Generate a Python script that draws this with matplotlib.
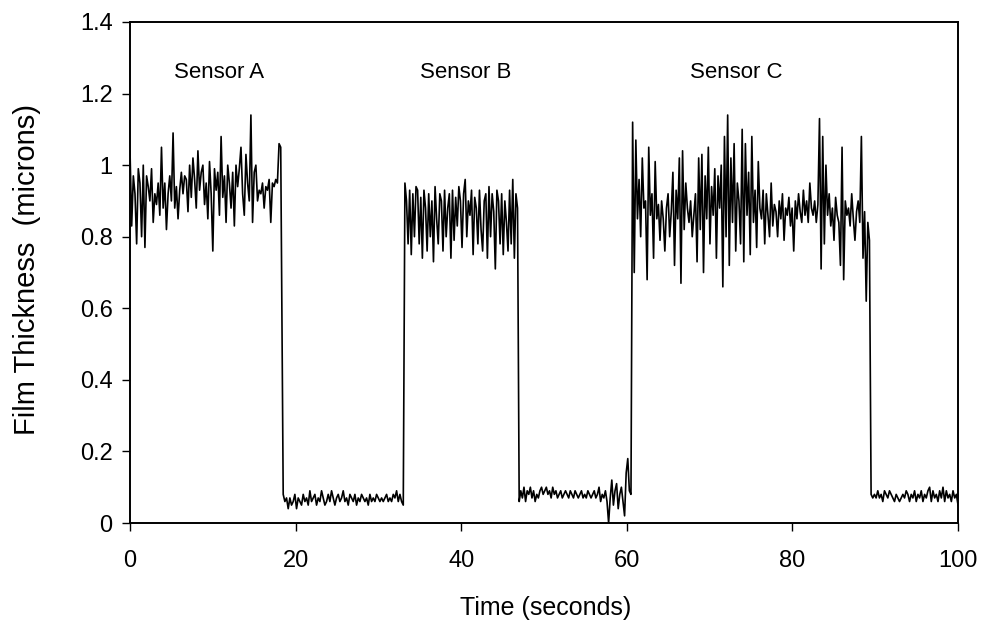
import numpy as np
import matplotlib
matplotlib.use("Agg")
import matplotlib.pyplot as plt

plt.rcParams['font.family'] = ['Liberation Sans', 'DejaVu Sans']

# Segment boundaries (seconds) and sampled values (microns)
seg_a_t = (0.0, 18.2)
seg_a = [1.04,0.83,0.97,0.92,0.78,0.99,0.95,0.80,1.00,0.77,0.97,0.94,0.90,0.99,0.84,0.92,0.89,0.95,0.86,1.05,
         0.88,0.95,0.82,0.92,0.97,0.90,1.09,0.88,0.94,0.85,0.93,0.98,0.92,0.97,0.96,0.87,1.00,0.91,1.02,0.96,
         0.88,1.04,0.93,0.98,1.00,0.89,0.95,0.85,1.01,0.92,0.76,0.99,0.93,0.98,0.86,1.08,0.91,0.97,0.84,1.00,
         0.95,0.88,0.98,0.83,1.00,0.94,0.99,1.05,0.92,0.86,1.03,0.95,0.90,1.14,0.84,0.98,1.00,0.90,0.93,0.92,
         0.95,0.88,0.94,0.93,0.96,0.84,0.95,0.94,0.96,0.95,1.06,1.05]

seg_l1_t = (18.5, 33.0)
seg_l1 = [0.08,0.06,0.07,0.04,0.07,0.05,0.06,0.08,0.04,0.07,0.06,0.05,0.08,0.06,0.07,0.05,0.09,0.06,0.07,0.08,
          0.05,0.07,0.06,0.09,0.07,0.05,0.06,0.08,0.06,0.09,0.07,0.05,0.07,0.08,0.06,0.07,0.09,0.06,0.07,0.05,
          0.08,0.07,0.06,0.08,0.05,0.07,0.06,0.08,0.07,0.06,0.07,0.05,0.08,0.06,0.07,0.06,0.08,0.07,0.06,0.07,
          0.06,0.07,0.08,0.06,0.07,0.06,0.08,0.07,0.09,0.06,0.08,0.06,0.05]

seg_b_t = (33.2, 46.8)
seg_b = [0.95,0.90,0.78,0.93,0.75,0.92,0.80,0.94,0.93,0.78,0.91,0.74,0.93,0.88,0.76,0.92,0.80,0.90,0.73,0.94,
         0.85,0.78,0.92,0.90,0.76,0.93,0.80,0.88,0.92,0.74,0.93,0.79,0.91,0.83,0.94,0.90,0.77,0.92,0.96,0.80,
         0.90,0.86,0.93,0.75,0.91,0.88,0.78,0.93,0.82,0.76,0.90,0.92,0.74,0.94,0.80,0.92,0.87,0.71,0.93,0.90,
         0.78,0.92,0.75,0.90,0.84,0.76,0.93,0.78,0.96,0.74,0.92,0.88]

seg_l2_t = (47.0, 60.5)
seg_l2 = [0.06,0.09,0.07,0.10,0.06,0.09,0.08,0.10,0.07,0.09,0.06,0.08,0.07,0.09,0.10,0.08,0.09,0.10,0.08,0.09,
          0.07,0.10,0.08,0.09,0.07,0.08,0.09,0.07,0.08,0.09,0.08,0.07,0.09,0.08,0.07,0.09,0.08,0.07,0.08,0.09,
          0.07,0.08,0.07,0.09,0.08,0.07,0.08,0.09,0.07,0.08,0.10,0.06,0.08,0.07,0.09,0.06,0.00,0.07,0.12,0.05,
          0.09,0.11,0.04,0.08,0.10,0.06,0.02,0.14,0.18,0.09,0.08]

seg_c_t = (60.7, 89.3)
seg_c = [1.12,0.70,1.07,0.85,0.96,0.80,1.02,0.88,0.90,0.68,1.05,0.86,0.92,0.74,1.01,0.85,0.89,0.79,0.90,0.85,
         0.76,0.88,0.92,0.80,0.87,0.98,0.72,0.93,0.85,1.02,0.67,1.04,0.82,0.95,0.88,0.84,0.90,0.80,0.86,0.92,
         0.73,1.02,0.82,1.03,0.70,0.97,0.85,1.05,0.78,0.94,0.86,0.99,0.74,0.97,0.88,1.00,0.66,1.08,0.80,1.14,
         0.72,1.02,0.84,1.06,0.76,0.95,0.90,0.78,1.10,0.73,1.06,0.86,0.98,0.75,1.08,0.84,0.93,0.77,1.01,0.88,
         0.85,0.93,0.78,0.92,0.86,0.80,0.95,0.83,0.89,0.87,0.80,0.90,0.85,0.92,0.79,0.88,0.86,0.91,0.83,0.88,
         0.76,0.90,0.85,0.92,0.87,0.84,0.93,0.86,0.90,0.84,0.95,0.88,0.86,0.90,0.84,0.89,1.13,0.71,1.08,0.78,
         1.00,0.86,0.92,0.83,0.88,0.79,0.91,0.86,0.84,0.72,1.05,0.68,0.90,0.86,0.88,0.83,0.92,0.85,0.79,0.87,
         0.90,0.84,1.08,0.74,0.87,0.62,0.84,0.79]

seg_l3_t = (89.5, 100.0)
seg_l3 = [0.08,0.07,0.08,0.07,0.09,0.07,0.08,0.06,0.09,0.08,0.07,0.09,0.08,0.07,0.06,0.08,0.07,0.06,0.07,0.08,
          0.07,0.09,0.08,0.06,0.08,0.07,0.09,0.06,0.08,0.07,0.09,0.06,0.08,0.07,0.09,0.10,0.06,0.09,0.07,0.08,
          0.06,0.09,0.07,0.10,0.06,0.09,0.07,0.08,0.06,0.09,0.07,0.08,0.05]

labels = ["Sensor A", "Sensor B", "Sensor C"]
label_x = [10.8, 40.5, 73.2]
label_y = [1.26, 1.26, 1.26]

segments = [(seg_a_t, seg_a), (seg_l1_t, seg_l1), (seg_b_t, seg_b),
            (seg_l2_t, seg_l2), (seg_c_t, seg_c), (seg_l3_t, seg_l3)]
t_all, v_all = [], []
for (t0, t1), vals in segments:
    t_all.append(np.linspace(t0, t1, len(vals)))
    v_all.append(np.asarray(vals))
t_all = np.concatenate(t_all)
v_all = np.concatenate(v_all)

fig = plt.figure(figsize=(9.82, 6.25), dpi=100)
ax = fig.add_axes([0.1324, 0.1632, 0.8432, 0.8016])
ax.plot(t_all, v_all, color='black', lw=1.2)

ax.set_xlim(0, 100)
ax.set_ylim(0, 1.4)
ax.set_xticks([0, 20, 40, 60, 80, 100])
ax.set_yticks([0, 0.2, 0.4, 0.6, 0.8, 1.0, 1.2, 1.4])
ax.set_yticklabels(["0", "0.2", "0.4", "0.6", "0.8", "1", "1.2", "1.4"])
ax.tick_params(direction='out', length=5.5, width=1, labelsize=17)
ax.tick_params(axis='x', pad=14)
ax.tick_params(axis='y', pad=7)
for s in ax.spines.values():
    s.set_linewidth(1.4)

ax.set_xlabel("Time (seconds)", fontsize=18)
ax.set_ylabel("Film Thickness  (microns)", fontsize=21)
ax.xaxis.set_label_coords(0.502, -0.145)
ax.yaxis.set_label_coords(-0.108, 0.505)

for lx, ly, lab in zip(label_x, label_y, labels):
    ax.text(lx, ly, lab, ha='center', va='center', fontsize=16)

fig.savefig("out.png", dpi=100)
